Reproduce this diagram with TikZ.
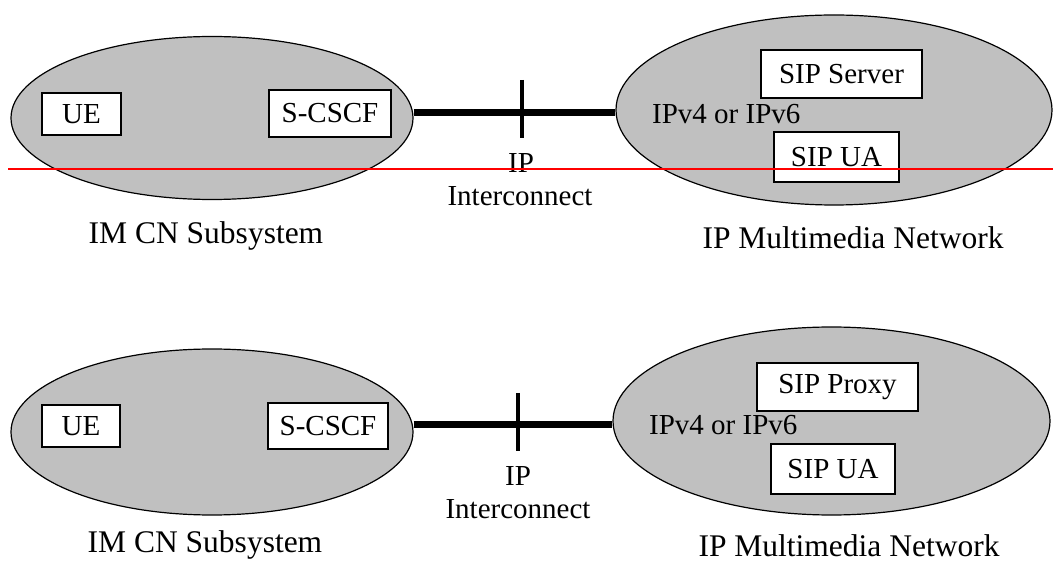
\documentclass[tikz,border=0pt]{standalone}
\usepackage{fontspec}
\setmainfont{Liberation Serif}
\usetikzlibrary{shapes.geometric}
\definecolor{netgray}{RGB}{192,192,192}
\definecolor{cutred}{RGB}{255,0,0}
\begin{document}
\begin{tikzpicture}[x=1pt,y=-1pt,
  net/.style={ellipse,draw=black,line width=1.2pt,fill=netgray,inner sep=0pt},
  box/.style={rectangle,draw=black,line width=1.3pt,fill=white,inner sep=0pt,font=\fontsize{29}{33}\selectfont},
  lbl/.style={anchor=base,inner sep=0pt,font=\fontsize{29}{33}\selectfont},
  capt/.style={anchor=base,inner sep=0pt,font=\fontsize{31.5}{36}\selectfont},
  link/.style={line width=7pt},
  tickline/.style={line width=3.5pt}]
\useasboundingbox (0,0) rectangle (1053,561);

% ---------- top diagram ----------
\node[net,minimum width=402pt,minimum height=163pt] (E1) at (212,118) {};
\node[net,minimum width=436pt,minimum height=190pt] (E2) at (834,110) {};
\node[box,minimum width=79pt,minimum height=42pt] (UE1) at (81.5,114) {UE};
\node[box,minimum width=122pt,minimum height=47pt] (SC1) at (330,113.5) {S-CSCF};
\node[box,minimum width=161pt,minimum height=48pt] (SS1) at (841.5,74) {SIP Server};
\node[box,minimum width=125pt,minimum height=50pt] (UA1) at (836.5,157) {SIP UA};
\node[lbl,anchor=base west] (IPV1) at (652,124) {IPv4 or IPv6};
\coordinate (T1) at (522,113);
\coordinate (T1a) at (522,80);
\coordinate (T1b) at (522,138);
\draw[link] (E1.east |- T1) -- (E2.west |- T1);
\draw[tickline] (T1a) -- (T1b);
\node[lbl] (IP1) at (521,173) {IP};
\node[lbl] (IC1) at (520,206) {Interconnect};
\node[capt] (IM1) at (206,244) {IM CN Subsystem};
\node[capt] (MN1) at (853,249) {IP Multimedia Network};

% ---------- bottom diagram ----------
\node[net,minimum width=402pt,minimum height=166pt] (E3) at (212,432) {};
\node[net,minimum width=437pt,minimum height=188pt] (E4) at (831.5,421) {};
\node[box,minimum width=78pt,minimum height=42pt] (UE2) at (81,426) {UE};
\node[box,minimum width=120pt,minimum height=46pt] (SC2) at (328,426) {S-CSCF};
\node[box,minimum width=161pt,minimum height=48pt] (SP2) at (837.5,387) {SIP Proxy};
\node[box,minimum width=124pt,minimum height=50pt] (UA2) at (833,469) {SIP UA};
\node[lbl,anchor=base west] (IPV2) at (649,435) {IPv4 or IPv6};
\coordinate (T2) at (518,425);
\coordinate (T2a) at (518,393);
\coordinate (T2b) at (518,451);
\draw[link] (E3.east |- T2) -- (E4.west |- T2);
\draw[tickline] (T2a) -- (T2b);
\node[lbl] (IP2) at (518,485) {IP};
\node[lbl] (IC2) at (518,518) {Interconnect};
\node[capt] (IM2) at (205,552) {IM CN Subsystem};
\node[capt] (MN2) at (849,556) {IP Multimedia Network};

% ---------- red line ----------
\coordinate (R1) at (8,169);
\coordinate (R2) at (1053,169);
\draw[cutred,line width=1.5pt] (R1) -- (R2);
\end{tikzpicture}
\end{document}
